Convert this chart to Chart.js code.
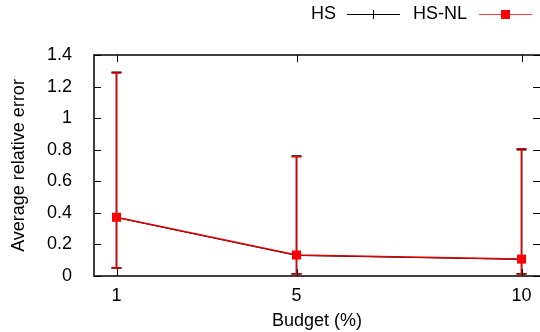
<!DOCTYPE html>
<html>
<head>
<meta charset="utf-8">
<script src="https://cdn.jsdelivr.net/npm/chart.js@4.4.1/dist/chart.umd.min.js"></script>
<style>
  body { margin: 0; background: #fff; }
  #wrap { width: 540px; height: 332px; }
</style>
</head>
<body>
<div id="wrap"><canvas id="chart" width="540" height="332"></canvas></div>
<script>
// values
var budget = [1, 5, 10];
var xTicks = [1, 5, 10];
var yTicks = [0, 0.2, 0.4, 0.6, 0.8, 1, 1.2, 1.4];

var hsMean = [0.37, 0.13, 0.105];
var hsLow = [0.05, 0.015, 0.015];
var hsHigh = [1.29, 0.76, 0.80];

var hsnlMean = [0.372, 0.133, 0.107];
var hsnlLow = [0.053, 0.013, 0.013];
var hsnlHigh = [1.286, 0.756, 0.806];

var FONT = "'Liberation Sans', Arial, sans-serif";

function points(ys) {
    var out = [];
    for (var i = 0; i < budget.length; i++) out.push({ x: budget[i], y: ys[i] });
    return out;
}

var errors = [
    { low: hsLow, high: hsHigh, color: '#000000' },
    { low: hsnlLow, high: hsnlHigh, color: '#e00000' }
];

// error bars drawn under each dataset's line
var errorBars = {
    id: 'errorBars',
    beforeDatasetDraw: function (chart, args) {
        var e = errors[args.index];
        var ctx = chart.ctx;
        var xs = chart.scales.x, ys = chart.scales.y;
        ctx.save();
        ctx.strokeStyle = e.color;
        ctx.lineWidth = 1.5;
        for (var i = 0; i < budget.length; i++) {
            var px = xs.getPixelForValue(budget[i]);
            var top = ys.getPixelForValue(e.high[i]);
            var bot = ys.getPixelForValue(e.low[i]);
            ctx.beginPath();
            ctx.moveTo(px, top); ctx.lineTo(px, bot);
            ctx.moveTo(px - 5, top); ctx.lineTo(px + 5, top);
            ctx.moveTo(px - 5, bot); ctx.lineTo(px + 5, bot);
            ctx.stroke();
        }
        ctx.restore();
    }
};

// gnuplot style frame with inward ticks, and key at top right
var frame = {
    id: 'frame',
    afterDraw: function (chart) {
        var ctx = chart.ctx, a = chart.chartArea;
        var xs = chart.scales.x, ys = chart.scales.y;
        var t = 7;
        ctx.save();
        ctx.strokeStyle = '#000';
        ctx.lineWidth = 1.5;
        ctx.beginPath();
        ctx.moveTo(a.right + 2, a.top); ctx.lineTo(a.left, a.top);
        ctx.lineTo(a.left, a.bottom); ctx.lineTo(a.right + 2, a.bottom);
        ctx.stroke();
        ctx.lineWidth = 1;
        ctx.beginPath();
        yTicks.forEach(function (v) {
            var py = Math.round(ys.getPixelForValue(v)) + 0.5;
            ctx.moveTo(a.left, py); ctx.lineTo(a.left + t, py);
            ctx.moveTo(a.right, py); ctx.lineTo(a.right - t, py);
        });
        xTicks.forEach(function (v) {
            var px = Math.round(xs.getPixelForValue(v)) + 0.5;
            ctx.moveTo(px, a.bottom); ctx.lineTo(px, a.bottom - t);
            ctx.moveTo(px, a.top); ctx.lineTo(px, a.top + t);
        });
        ctx.stroke();

        // key
        ctx.font = '18px ' + FONT;
        ctx.fillStyle = '#000';
        ctx.textAlign = 'right';
        ctx.textBaseline = 'middle';
        var ky = 14;
        ctx.fillText(chart.data.datasets[0].label, 336, ky);
        ctx.fillText(chart.data.datasets[1].label, 467, ky);
        ctx.lineWidth = 1;
        ctx.strokeStyle = '#000';
        ctx.beginPath();
        ctx.moveTo(347, ky + 0.5); ctx.lineTo(400, ky + 0.5);
        ctx.moveTo(373.5, ky - 4); ctx.lineTo(373.5, ky + 5);
        ctx.stroke();
        ctx.strokeStyle = '#ff4040';
        ctx.beginPath();
        ctx.moveTo(479, ky + 0.5); ctx.lineTo(532, ky + 0.5);
        ctx.stroke();
        ctx.fillStyle = '#ff0000';
        ctx.fillRect(501, ky - 4, 9, 9);
        ctx.restore();
    }
};

var ctx = document.getElementById('chart').getContext('2d');
var chart = new Chart(ctx, {
    type: 'line',
    data: {
        datasets: [
            {
                label: 'HS',
                data: points(hsMean),
                order: 2,
                borderColor: '#000000',
                backgroundColor: '#000000',
                borderWidth: 1,
                pointStyle: 'cross',
                pointRadius: 4,
                pointBorderWidth: 1,
                fill: false,
                tension: 0
            },
            {
                label: 'HS-NL',
                data: points(hsnlMean),
                order: 1,
                borderColor: '#e00000',
                backgroundColor: '#ff0000',
                borderWidth: 1.5,
                pointStyle: 'rect',
                pointRadius: 6.4,
                pointBorderWidth: 0,
                fill: false,
                tension: 0
            }
        ]
    },
    options: {
        responsive: false,
        animation: false,
        layout: {
            autoPadding: false,
            padding: { top: 55, right: 0, left: 0, bottom: 0 }
        },
        plugins: {
            legend: { display: false },
            tooltip: { enabled: false }
        },
        scales: {
            x: {
                type: 'linear',
                min: 0.5,
                max: 10.41,
                afterBuildTicks: function (scale) {
                    scale.ticks = xTicks.map(function (v) { return { value: v }; });
                },
                afterFit: function (scale) { scale.height = 56; },
                grid: { display: false },
                border: { display: false },
                ticks: {
                    color: '#000',
                    padding: 1,
                    font: { family: FONT, size: 18 }
                },
                title: {
                    display: true,
                    text: 'Budget (%)',
                    color: '#000',
                    padding: { top: 2, bottom: 0 },
                    font: { family: FONT, size: 18 }
                }
            },
            y: {
                min: 0,
                max: 1.4,
                afterBuildTicks: function (scale) {
                    scale.ticks = yTicks.map(function (v) { return { value: v }; });
                },
                afterFit: function (scale) { scale.width = 94; },
                grid: { display: false },
                border: { display: false },
                ticks: {
                    color: '#000',
                    padding: 14,
                    font: { family: FONT, size: 18 },
                    callback: function (v) { return String(parseFloat(v.toFixed(1))); }
                },
                title: {
                    display: true,
                    text: 'Average relative error',
                    color: '#000',
                    padding: { top: 8, bottom: 0 },
                    font: { family: FONT, size: 18 }
                }
            }
        }
    },
    plugins: [errorBars, frame]
});
</script>
</body>
</html>
